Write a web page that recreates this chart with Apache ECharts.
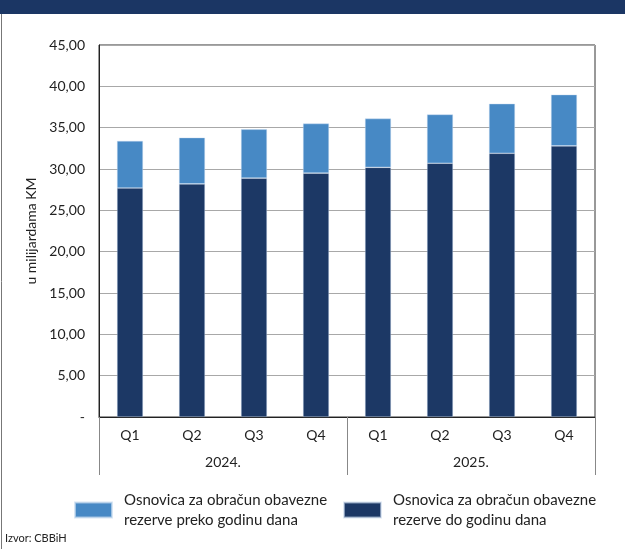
<!DOCTYPE html>
<html>
<head>
<meta charset="utf-8">
<script src="https://cdn.jsdelivr.net/npm/echarts@6/dist/echarts.min.js"></script>
<style>
  html, body { margin: 0; padding: 0; background: #fff; }
  #chart { width: 625px; height: 549px; }
</style>
</head>
<body>
<div id="chart"></div>
<script>
// Quarterly base for the mandatory reserve calculation (billions of KM)
const quarters = ['Q1', 'Q2', 'Q3', 'Q4', 'Q1', 'Q2', 'Q3', 'Q4'];
const years = ['2024.', '2025.'];
const shortTerm = [27.7, 28.2, 28.9, 29.5, 30.2, 30.7, 31.9, 32.8];   // do godinu dana
const longTerm = [5.7, 5.6, 5.9, 6.0, 5.9, 5.9, 6.0, 6.2];            // preko godinu dana
const nameShort = 'Osnovica za obračun obavezne\nrezerve do godinu dana';
const nameLong = 'Osnovica za obračun obavezne\nrezerve preko godinu dana';

const FONT = 'Lato';
const DARK = '#1c3865';
const LIGHT = '#4789c5';

const chart = echarts.init(document.getElementById('chart'), null, { renderer: 'canvas' });

const legendText = {
  fontFamily: FONT, fontSize: 15, color: '#222', lineHeight: 20,
  padding: [20, 0, 0, 7]
};

chart.setOption({
  animation: false,
  textStyle: { fontFamily: FONT },
  grid: {
    left: 99, right: 30, top: 45, bottom: 132,
    show: true, borderColor: '#333', borderWidth: 1
  },
  legend: [
    {
      data: [nameLong], left: 74, top: 480, padding: 0,
      itemWidth: 37, itemHeight: 15, itemGap: 12,
      icon: 'rect', textStyle: legendText, selectedMode: false
    },
    {
      data: [nameShort], left: 343, top: 480, padding: 0,
      itemWidth: 37, itemHeight: 15, itemGap: 12,
      icon: 'rect', textStyle: legendText, selectedMode: false
    }
  ],
  xAxis: [
    {
      type: 'category', data: quarters, position: 'bottom',
      axisLine: { lineStyle: { color: '#222', width: 1 } },
      axisTick: { show: false },
      axisLabel: { fontFamily: FONT, fontSize: 14, color: '#222', margin: 11 }
    },
    {
      type: 'category', data: years, position: 'bottom',
      axisLine: { show: false },
      axisTick: { show: true, length: 58, lineStyle: { color: '#888', width: 1 } },
      axisLabel: { fontFamily: FONT, fontSize: 14, color: '#222', margin: 38 }
    }
  ],
  yAxis: {
    type: 'value', min: 0, max: 45, interval: 5,
    name: 'u milijardama KM', nameLocation: 'middle', nameGap: 56, nameRotate: 90,
    nameTextStyle: { fontFamily: FONT, fontSize: 14, color: '#222' },
    axisLine: { show: true, lineStyle: { color: '#222', width: 1 } },
    axisTick: { show: false },
    splitLine: { lineStyle: { color: '#a8a8a8', width: 1 } },
    axisLabel: {
      fontFamily: FONT, fontSize: 14, color: '#222', margin: 14,
      formatter: v => v === 0 ? '-' : v.toFixed(2).replace('.', ',')
    }
  },
  series: [
    {
      name: nameShort, type: 'bar', stack: 'base', xAxisIndex: 0,
      data: shortTerm, barWidth: 26,
      itemStyle: { color: DARK, borderColor: 'rgba(200,215,235,0.6)', borderWidth: 0.6 }
    },
    {
      name: nameLong, type: 'bar', stack: 'base', xAxisIndex: 0,
      data: longTerm, barWidth: 26,
      itemStyle: { color: LIGHT, borderColor: 'rgba(200,220,240,0.7)', borderWidth: 0.6 }
    }
  ],
  graphic: [
    { type: 'rect', left: 0, top: 0, shape: { width: 625, height: 14 }, style: { fill: '#1b3664' }, silent: true },
    { type: 'line', shape: { x1: 1.5, y1: 14, x2: 1.5, y2: 549 }, style: { stroke: '#777', lineWidth: 1 }, silent: true },
    { type: 'text', left: 5, top: 533, style: { text: 'Izvor: CBBiH', font: '11px ' + FONT, fill: '#222' }, silent: true }
  ]
});
</script>
</body>
</html>
